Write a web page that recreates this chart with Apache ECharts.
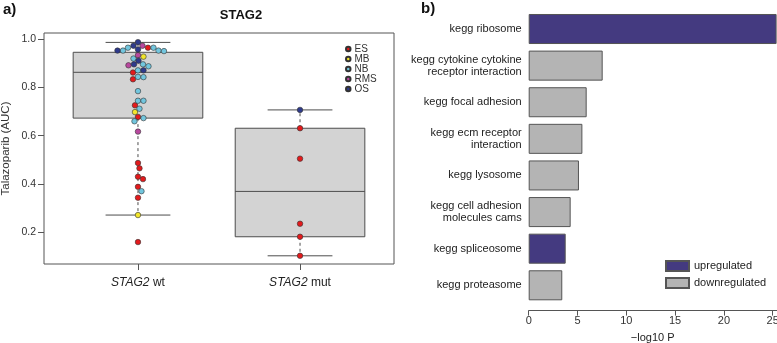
<!DOCTYPE html>
<html><head><meta charset="utf-8">
<script src="https://cdn.jsdelivr.net/npm/echarts@6/dist/echarts.min.js"></script>
<style>html,body{margin:0;padding:0;background:#fff}#c{width:777px;height:343px}</style>
</head><body><div id="c"></div>
<script>
// ---------- Data ----------
const categories = ['STAG2 wt', 'STAG2 mut'];
const groupNames = ['ES', 'MB', 'NB', 'RMS', 'OS'];
const groupColors = ['#e31a1c', '#f2e52b', '#72c6de', '#b8489e', '#2e3a8c'];

const wtValues = [0.988,0.973,0.973,0.965,0.965,0.965,0.958,0.953,0.953,0.953,0.951,0.934,0.928,0.920,0.911,0.896,0.896,0.892,0.888,0.871,0.871,0.862,0.844,0.843,0.834,0.785,0.745,0.745,0.726,0.712,0.698,0.678,0.673,0.660,0.617,0.487,0.465,0.430,0.420,0.388,0.370,0.343,0.271,0.159];
const wtGroups = ['OS','RMS','OS','ES','NB','NB','OS','NB','NB','OS','NB','RMS','MB','NB','OS','OS','NB','RMS','NB','NB','OS','ES','NB','NB','ES','NB','NB','NB','ES','NB','MB','ES','NB','NB','RMS','ES','ES','ES','ES','ES','NB','ES','MB','ES'];
const mutValues = [0.707, 0.631, 0.505, 0.235, 0.181, 0.102];
const mutGroups = ['OS', 'ES', 'ES', 'ES', 'ES', 'ES'];

// box stats: [lower whisker, Q1, median, Q3, upper whisker]
const wtStats = [0.271, 0.673, 0.863, 0.946, 0.987];
const mutStats = [0.102, 0.181, 0.369, 0.631, 0.707];
const yTicks = [0.2, 0.4, 0.6, 0.8, 1.0];

const pathways = ['kegg ribosome', 'kegg cytokine cytokine\nreceptor interaction', 'kegg focal adhesion', 'kegg ecm receptor\ninteraction', 'kegg lysosome', 'kegg cell adhesion\nmolecules cams', 'kegg spliceosome', 'kegg proteasome'];
const pathwayP = [25.4, 7.58, 5.94, 5.50, 5.15, 4.30, 3.79, 3.44];
const pathwayDir = ['up', 'down', 'down', 'down', 'down', 'down', 'up', 'down'];
const barTicks = [0, 5, 10, 15, 20, 25];

// ---------- Layout ----------
const W = 777, H = 343;
const g0 = {left: 44, top: 33, right: W - 394, bottom: H - 264};
const xMin0 = 0.42, xMax0 = 2.58, yMin0 = 0.068, yMax0 = 1.026;
const barMax = 25.4;
const g1 = {left: 528.7, top: 10.7, right: W - 776.6, bottom: H - 303.6};
const font = "'Liberation Sans', Arial, sans-serif";

// beeswarm offsets computed from values (pixel-based non-overlap)
function swarm(values, center) {
  const pxX = (W - g0.left - g0.right) / (xMax0 - xMin0);
  const pxY = (H - g0.top - g0.bottom) / (yMax0 - yMin0);
  const d = 5.4;
  const placed = [];
  return values.map(v => {
    const yp = v * pxY;
    let best = 0;
    for (let k = 0; k < 200; k++) {
      const cands = k === 0 ? [0] : [k * 0.5, -k * 0.5];
      let ok = null;
      for (const c of cands) {
        if (placed.every(p => Math.hypot(p[0] - c, p[1] - yp) >= d)) { ok = c; break; }
      }
      if (ok !== null) { best = ok; break; }
    }
    placed.push([best, yp]);
    return center + best / pxX;
  });
}
const wtX = swarm(wtValues, 1);
const mutX = swarm(mutValues, 2);

const scatterSeries = groupNames.map((g, gi) => {
  const data = [];
  wtValues.forEach((v, i) => { if (wtGroups[i] === g) data.push([wtX[i], v]); });
  mutValues.forEach((v, i) => { if (mutGroups[i] === g) data.push([mutX[i], v]); });
  return {
    name: g, type: 'scatter', xAxisIndex: 0, yAxisIndex: 0, z: 5,
    symbolSize: 5.5, data,
    itemStyle: {color: groupColors[gi], borderColor: '#333', borderWidth: 0.6, opacity: 1}
  };
});

const boxSeries = {
  type: 'custom', xAxisIndex: 0, yAxisIndex: 0, z: 2, silent: true,
  data: [[1, ...wtStats], [2, ...mutStats]],
  encode: {x: 0, y: [1, 2, 3, 4, 5]},
  renderItem(params, api) {
    const x = api.value(0);
    const lo = api.value(1), q1 = api.value(2), med = api.value(3), q3 = api.value(4), hi = api.value(5);
    const p = (a, b) => api.coord([a, b]);
    const hw = 0.4, cw = 0.2;
    const solid = {stroke: '#4d4d4d', lineWidth: 1, fill: null};
    const dashed = {stroke: '#4d4d4d', lineWidth: 1, lineDash: [3, 3], fill: null};
    const line = (a, b, style) => ({type: 'line', shape: {x1: a[0], y1: a[1], x2: b[0], y2: b[1]}, style});
    const tl = p(x - hw, q3), br = p(x + hw, q1);
    return {type: 'group', children: [
      {type: 'rect', shape: {x: tl[0], y: tl[1], width: br[0] - tl[0], height: br[1] - tl[1]},
       style: {fill: '#d3d3d3', stroke: '#4d4d4d', lineWidth: 1}},
      line(p(x - hw, med), p(x + hw, med), solid),
      line(p(x, q3), p(x, hi), dashed),
      line(p(x, q1), p(x, lo), dashed),
      line(p(x - cw, hi), p(x + cw, hi), solid),
      line(p(x - cw, lo), p(x + cw, lo), solid)
    ]};
  }
};

const upData = pathwayP.map((v, i) => pathwayDir[i] === 'up' ? v : '-');
const downData = pathwayP.map((v, i) => pathwayDir[i] === 'down' ? v : '-');

const option = {
  animation: false,
  textStyle: {fontFamily: font},
  title: {text: 'STAG2', left: 236, top: 4, textAlign: 'center',
    textStyle: {fontFamily: font, fontSize: 13, fontWeight: 'bold', color: '#111'}},
  graphic: [
    {type: 'text', left: 3, top: 2, style: {text: 'a)', font: "bold 15px 'Liberation Sans', Arial", fill: '#111'}},
    {type: 'text', left: 421, top: 1, style: {text: 'b)', font: "bold 15px 'Liberation Sans', Arial", fill: '#111'}}
  ],
  legend: [
    {data: groupNames, orient: 'vertical', left: 345, top: 44, icon: 'circle',
     itemWidth: 4.5, itemHeight: 4.5, itemGap: 0, padding: 0,
     textStyle: {fontFamily: font, fontSize: 10, color: '#333', lineHeight: 9.3, padding: [0, 0, 0, -1]}},
    {data: ['upregulated', 'downregulated'], orient: 'vertical', left: 665, top: 260, icon: 'rect',
     itemWidth: 23, itemHeight: 10, itemGap: 5, padding: 0,
     textStyle: {fontFamily: font, fontSize: 11, color: '#222', lineHeight: 10}}
  ],
  grid: [
    Object.assign({show: true, borderColor: '#555', borderWidth: 1, backgroundColor: 'transparent', outerBoundsMode: 'none', containLabel: false}, g0),
    Object.assign({outerBoundsMode: 'none', containLabel: false}, g1)
  ],
  xAxis: [
    {type: 'value', gridIndex: 0, min: xMin0, max: xMax0, splitLine: {show: false},
     axisLine: {show: false},
     axisTick: {show: true, length: 6, customValues: [1, 2], lineStyle: {color: '#555'}},
     axisLabel: {customValues: [1, 2], margin: 13, fontSize: 12, color: '#222',
       formatter: v => { const s = categories[Math.round(v) - 1] || ''; const k = s.indexOf(' ');
         return '{i|' + s.slice(0, k) + '}' + s.slice(k); },
       rich: {i: {fontStyle: 'italic', fontSize: 12, color: '#222', fontFamily: font}}}},
    {type: 'value', gridIndex: 1, min: 0, max: barMax, offset: 7,
     splitLine: {show: false},
     axisLine: {show: true, lineStyle: {color: '#555'}},
     axisTick: {show: true, length: 5, lineStyle: {color: '#555'}, customValues: barTicks},
     axisLabel: {fontSize: 11, color: '#333', margin: 5, customValues: barTicks},
     name: '\u2212log10 P', nameLocation: 'middle', nameGap: 22,
     nameTextStyle: {fontSize: 11, color: '#222', fontFamily: font}}
  ],
  yAxis: [
    {type: 'value', gridIndex: 0, min: yMin0, max: yMax0, splitLine: {show: false},
     axisLine: {show: false},
     axisTick: {show: true, length: 6, customValues: yTicks, lineStyle: {color: '#555'}},
     axisLabel: {customValues: yTicks, margin: 8, fontSize: 10.5, color: '#333',
       formatter: v => v.toFixed(1)},
     name: 'Talazoparib (AUC)', nameLocation: 'middle', nameGap: 32,
     nameTextStyle: {fontSize: 11.5, color: '#333', fontFamily: font}},
    {type: 'category', gridIndex: 1, data: pathways, inverse: true,
     axisLine: {show: false}, axisTick: {show: false},
     axisLabel: {fontSize: 11, color: '#222', margin: 7, lineHeight: 12, align: 'right'}}
  ],
  series: [
    boxSeries,
    ...scatterSeries,
    {name: 'upregulated', type: 'bar', xAxisIndex: 1, yAxisIndex: 1, stack: 'p', data: upData,
     barWidth: '82%',
     itemStyle: {color: '#443a80', borderColor: '#555', borderWidth: 1}},
    {name: 'downregulated', type: 'bar', xAxisIndex: 1, yAxisIndex: 1, stack: 'p', data: downData,
     barWidth: '82%',
     itemStyle: {color: '#b4b4b4', borderColor: '#555', borderWidth: 1}}
  ]
};
echarts.init(document.getElementById('c'), null, {renderer: 'canvas'}).setOption(option);
</script></body></html>
